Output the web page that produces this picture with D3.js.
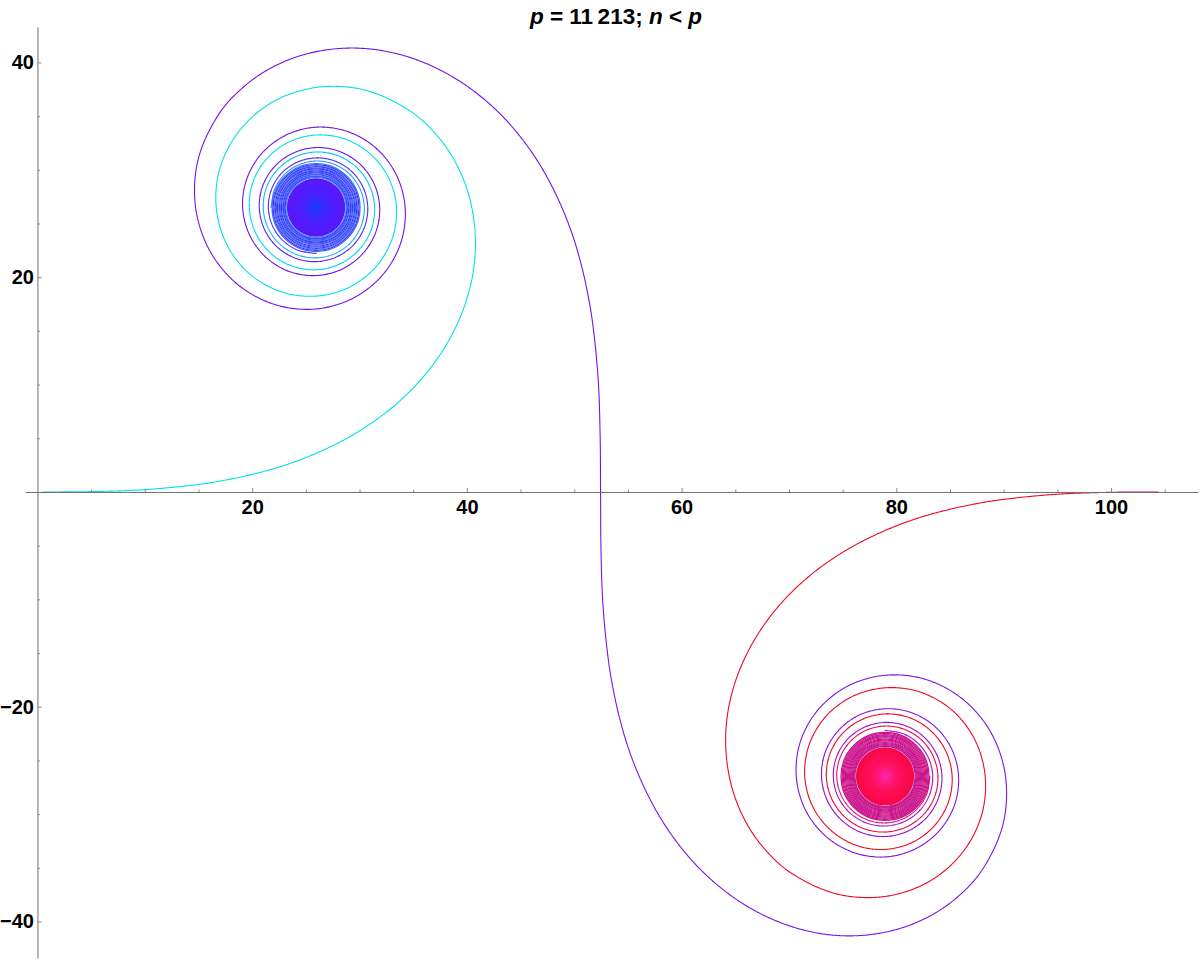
<!DOCTYPE html>
<html><head><meta charset="utf-8">
<script src="https://cdn.jsdelivr.net/npm/d3@7"></script>
<style>body{margin:0;background:#fff} svg{display:block}</style>
</head><body>
<svg id="chart" width="1200" height="961"></svg>
<script>
// ---------------- data ----------------
const xMajorTicks = [20, 40, 60, 80, 100];
const xMinorTicks = [5, 10, 15, 25, 30, 35, 45, 50, 55, 65, 70, 75, 85, 90, 95, 105];
const yMajorTicks = [-40, -20, 20, 40];
const yMinorTicks = [-35, -30, -25, -15, -10, -5, 5, 10, 15, 25, 30, 35];
const xDomain = [-1.16, 108.1];
const yDomain = [-43.4, 43.3];

// centres of the two dense spirals
const upperCenter = [25.95, 26.49];
const lowerCenter = [78.95, -26.49];

// arm from the origin into the upper spiral (cyan)
const startArm = [[0.5,0],[4.8,0.03],[10.08,0.22],[15.35,0.75],[17.96,1.19],[20.55,1.77],[23.08,2.5],
  [25.57,3.43],[27.97,4.54],[30.27,5.85],[32.44,7.38],[34.43,9.11],[36.22,11.06],[37.77,13.2],
  [39.04,15.52],[40.0,17.99],[40.6,20.56],[40.8,23.21],[40.58,25.83],[39.94,28.41],[38.87,30.82],
  [37.38,33.0]];
// arm from the upper spiral, through the middle, into the lower spiral (violet)
const crossArm = [[19.44,37.92],[21.62,39.41],[24.03,40.48],[26.61,41.12],[29.23,41.34],[31.88,41.14],
  [34.45,40.54],[36.92,39.58],[39.24,38.31],[41.38,36.76],[43.33,34.97],[45.06,32.98],[46.59,30.81],
  [47.9,28.51],[49.01,26.11],[49.94,23.62],[50.67,21.09],[51.25,18.5],[51.69,15.89],[52.22,10.62],
  [52.41,5.34],[52.45,0],[52.49,-5.34],[52.68,-10.62],[53.21,-15.89],[53.65,-18.5],[54.23,-21.09],
  [54.96,-23.62],[55.89,-26.11],[57.0,-28.51],[58.31,-30.81],[59.84,-32.98],[61.57,-34.97],
  [63.52,-36.76],[65.66,-38.31],[67.98,-39.58],[70.45,-40.54],[73.02,-41.14],[75.67,-41.34],
  [78.29,-41.12],[80.87,-40.48],[83.28,-39.41],[85.46,-37.92]];
// arm from the end point back into the lower spiral (red)
const endArm = [[104.4,0],[100.1,-0.03],[94.82,-0.22],[89.55,-0.75],[86.94,-1.19],[84.35,-1.77],
  [81.82,-2.5],[79.33,-3.43],[76.93,-4.54],[74.63,-5.85],[72.46,-7.38],[70.47,-9.11],[68.68,-11.06],
  [67.13,-13.2],[65.86,-15.52],[64.9,-17.99],[64.3,-20.56],[64.1,-23.21],[64.32,-25.83],[64.96,-28.41],
  [66.03,-30.82],[67.52,-33.0]];

// spiral turns: distance from the centre every 22.5 degrees (counter-clockwise, inward)
const turnStep = 22.5;
const upperInStart = 45;
const upperInRadii = [12.58,11.84,11.18,10.62,10.1,9.68,9.3,9.0,8.75,8.5,8.25,8.05,7.85,7.67,7.5,7.3,7.1,
  6.92,6.75,6.6,6.46,6.34,6.22,6.11,6.0,5.9,5.8,5.71,5.62,5.54,5.46,5.38,5.31,5.24,5.17,5.1,5.04,4.98,
  4.92,4.86,4.8,4.74,4.69,4.64,4.59,4.54,4.5,4.45,4.41,4.37,4.33,4.29,4.25,4.21,4.18];
const upperOutStart = 135;
const upperOutRadii = [12.6,11.87,11.22,10.68,10.22,9.81,9.45,9.12,8.82,8.55,8.3,8.07,7.86,7.66,7.48,
  7.3,7.14,6.98,6.84,6.7,6.58,6.46,6.34,6.23,6.12,6.02,5.93,5.84,5.75,5.66,5.58,5.5,5.43,5.36,5.29,5.22,
  5.16,5.1,5.04,4.98,4.93,4.87,4.82,4.77,4.72,4.67,4.62,4.57,4.53,4.48,4.44,4.4,4.36,4.32,4.28];
const lowerInStart = 315;
const lowerInRadii = [12.6,11.87,11.22,10.68,10.2,9.79,9.42,9.1,8.8,8.53,8.27,8.05,7.85,7.67,7.5,7.32,
  7.15,7.0,6.85,6.71,6.57,6.43,6.3,6.2,6.1,6.01,5.92,5.83,5.75,5.67,5.6,5.52,5.45,5.37,5.3,5.23,5.16,
  5.09,5.03,4.97,4.92,4.87,4.82,4.77,4.72,4.67,4.62,4.57,4.53,4.48,4.44,4.4,4.36,4.32,4.28];
const lowerOutStart = 225;
const lowerOutRadii = [12.58,11.84,11.18,10.62,10.12,9.7,9.33,9.03,8.77,8.51,8.25,8.04,7.85,7.66,7.48,
  7.3,7.12,6.96,6.8,6.65,6.5,6.37,6.25,6.13,6.02,5.92,5.82,5.72,5.63,5.55,5.47,5.39,5.32,5.25,5.18,5.11,
  5.05,4.99,4.93,4.86,4.8,4.74,4.69,4.64,4.59,4.54,4.5,4.45,4.41,4.37,4.33,4.29,4.25,4.21,4.18];

// dense cores: ring radii and filled disc radius
const upperCoreRings = [4.1,4.0,3.9,3.8,3.7,3.6,3.5,3.41,3.32,3.23,3.14,3.05,2.96,2.88,2.8];
const lowerCoreRings = [4.1,4.0,3.9,3.8,3.7,3.6,3.5,3.41,3.32,3.23,3.14,3.05,2.96,2.88,2.8];
const upperCoreRadius = 2.72;
const lowerCoreRadius = 2.72;

// ---------------- drawing ----------------
const W = 1200, H = 961;
const svg = d3.select("#chart");
svg.append("rect").attr("width", W).attr("height", H).attr("fill", "#fff");

const x = d3.scaleLinear().domain(xDomain).range([25, 1198]);
const y = d3.scaleLinear().domain(yDomain).range([958, 27]);
const rpx = r => x(r) - x(0);

function turnPoints(center, startDeg, radii) {
  return radii.map((r, i) => {
    const a = (startDeg + turnStep * i) * Math.PI / 180;
    return [center[0] + r * Math.cos(a), center[1] + r * Math.sin(a)];
  });
}

const cyanPts = startArm.concat(turnPoints(upperCenter, upperInStart, upperInRadii));
const violetPts = turnPoints(upperCenter, upperOutStart, upperOutRadii).reverse()
  .concat(crossArm, turnPoints(lowerCenter, lowerInStart, lowerInRadii));
const redPts = endArm.concat(turnPoints(lowerCenter, lowerOutStart, lowerOutRadii));

const smooth = d3.line().x(d => x(d[0])).y(d => y(d[1])).curve(d3.curveCatmullRom.alpha(0.5));
const plain = d3.line();

function distTo(c, px, py) {
  const dx = x.invert(px) - c[0], dy = y.invert(py) - c[1];
  return Math.sqrt(dx * dx + dy * dy);
}

// draw a smooth section, colour varying with the distance to the spiral centres
function drawSection(pts, colorAt, cls) {
  const g = svg.append("g").attr("class", cls).attr("fill", "none")
    .attr("stroke-width", 1.1).attr("stroke-linejoin", "round").attr("stroke-linecap", "round");
  const tmp = g.append("path").attr("d", smooth(pts)).attr("stroke", "none");
  const node = tmp.node();
  const L = node.getTotalLength();
  const runs = [];
  let cur = null;
  for (let s = 0; s <= L + 1.2; s += 1.2) {
    const p = node.getPointAtLength(Math.min(s, L));
    const c = colorAt(p.x, p.y);
    if (!cur || cur.c !== c) {
      const prev = cur ? cur.pts[cur.pts.length - 1] : null;
      cur = { c: c, pts: prev ? [prev] : [] };
      runs.push(cur);
    }
    cur.pts.push([p.x, p.y]);
  }
  tmp.remove();
  runs.forEach(r => { if (r.pts.length > 1) g.append("path").attr("d", plain(r.pts)).attr("stroke", r.c); });
}

const q = v => Math.round(v * 20) / 20;
const cyanScale = d3.scaleLinear().domain([4.1, 4.8, 5.6, 6.5]).range(["#3a8cff", "#1cb4f4", "#00d6ee", "#00e2ea"]).clamp(true);
const upViolet = d3.scaleLinear().domain([4.2, 5.0, 6.0, 8.0]).range(["#4038ff", "#5626f2", "#6a18e8", "#7414e6"]).clamp(true);
const loViolet = d3.scaleLinear().domain([4.2, 5.0, 6.2, 8.5]).range(["#b010c0", "#9a14cc", "#8616d8", "#7a18e4"]).clamp(true);
const redScale = d3.scaleLinear().domain([4.1, 5.0, 6.0]).range(["#e8106a", "#e60e44", "#ea0a2a"]).clamp(true);

const cyanColor = (px, py) => cyanScale(q(distTo(upperCenter, px, py)));
const violetColor = (px, py) => {
  const r1 = distTo(upperCenter, px, py), r2 = distTo(lowerCenter, px, py);
  return r1 < r2 ? upViolet(q(r1)) : loViolet(q(r2));
};
const redColor = (px, py) => redScale(q(distTo(lowerCenter, px, py)));

const defs = svg.append("defs");
function radial(id, stops) {
  const gr = defs.append("radialGradient").attr("id", id);
  stops.forEach(s => gr.append("stop").attr("offset", s[0]).attr("stop-color", s[1]));
}
radial("coreUp", [[0, "#0046ff"], [0.14, "#2832ff"], [0.5, "#4a1eff"], [1, "#5a16f8"]]);
radial("coreLo", [[0, "#ff2ab8"], [0.16, "#ff1e8c"], [0.5, "#ff0e5a"], [1, "#f60844"]]);

function drawCore(center, rings, coreR, colors, fillId) {
  const g = svg.append("g");
  const cx = x(center[0]), cy = y(center[1]);
  g.selectAll("circle.ring").data(rings).join("circle").attr("class", "ring")
    .attr("cx", cx).attr("cy", cy).attr("r", d => rpx(d))
    .attr("fill", "none").attr("stroke-width", 1.2)
    .attr("stroke", (d, i) => colors[i % colors.length]);
  g.append("circle").attr("cx", cx).attr("cy", cy).attr("r", rpx(coreR))
    .attr("fill", `url(#${fillId})`);
}

drawSection(cyanPts, cyanColor, "cyan");
drawCore(upperCenter, upperCoreRings, upperCoreRadius, ["#3a6cff", "#5a22f2", "#2f8cff", "#4a2cff"], "coreUp");
drawSection(violetPts, violetColor, "violet");
drawCore(lowerCenter, lowerCoreRings, lowerCoreRadius, ["#b414b0", "#f2104c", "#a01cc8", "#e8106a"], "coreLo");
drawSection(redPts, redColor, "red");

// axes (drawn over the curve)
const axisColor = "#6e6e6e";
const fmt = d3.format("d");
const gx = svg.append("g").attr("transform", `translate(0,${y(0)})`)
  .call(d3.axisBottom(x).tickValues(xMajorTicks).tickSizeInner(-4).tickSizeOuter(0).tickPadding(8).tickFormat(fmt));
const gxm = svg.append("g").attr("transform", `translate(0,${y(0)})`)
  .call(d3.axisBottom(x).tickValues(xMinorTicks).tickSizeInner(-2.5).tickSizeOuter(0).tickFormat(""));
const gy = svg.append("g").attr("transform", `translate(${x(0)},0)`)
  .call(d3.axisLeft(y).tickValues(yMajorTicks).tickSizeInner(-4).tickSizeOuter(0).tickPadding(3.5).tickFormat(fmt));
const gym = svg.append("g").attr("transform", `translate(${x(0)},0)`)
  .call(d3.axisLeft(y).tickValues(yMinorTicks).tickSizeInner(-2.5).tickSizeOuter(0).tickFormat(""));
gxm.select(".domain").remove();
gym.select(".domain").remove();
[gx, gy].forEach(g => g.select(".domain").attr("stroke", axisColor).attr("stroke-width", 1));
[gx, gxm, gy, gym].forEach(g => g.selectAll(".tick line").attr("stroke", "#8a8a8a").attr("stroke-width", 1));
[gx, gy].forEach(g => g.selectAll(".tick text")
  .attr("font-family", "'Liberation Sans', Arial, sans-serif").attr("font-size", 20)
  .attr("font-weight", "bold").attr("fill", "#000"));

// title
const title = svg.append("text").attr("x", 616).attr("y", 24).attr("text-anchor", "middle")
  .attr("font-family", "'Liberation Sans', Arial, sans-serif").attr("font-size", 22.5)
  .attr("font-weight", "bold").attr("fill", "#000");
title.append("tspan").attr("font-style", "italic").text("p");
title.append("tspan").text(" = 11\u2009213; ");
title.append("tspan").attr("font-style", "italic").text("n");
title.append("tspan").text(" < ");
title.append("tspan").attr("font-style", "italic").text("p");
</script>
</body></html>
